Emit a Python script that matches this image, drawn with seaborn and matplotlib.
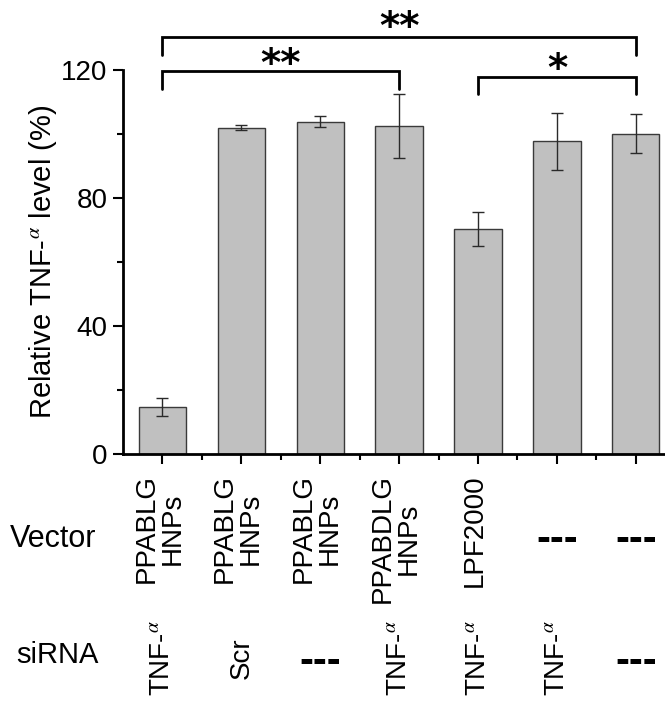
import numpy as np
import pandas as pd
import matplotlib
matplotlib.use('Agg')
import matplotlib.pyplot as plt
import matplotlib.transforms as mtransforms
from matplotlib.ticker import FixedLocator, MultipleLocator
import seaborn as sns

# ── data ──────────────────────────────────────────────────────────────────
groups = ['g1', 'g2', 'g3', 'g4', 'g5', 'g6', 'g7']
tnf_level = [14.8, 102.0, 103.9, 102.5, 70.4, 97.7, 100.1]
tnf_err = [2.8, 0.7, 1.7, 10.0, 5.3, 9.0, 6.0]
vector = ['PPABLG\nHNPs', 'PPABLG\nHNPs', 'PPABLG\nHNPs', 'PPABDLG\nHNPs', 'LPF2000', '---', '---']
sirna = ['TNF-${}^{\\alpha}$', 'Scr', '---', 'TNF-${}^{\\alpha}$', 'TNF-${}^{\\alpha}$', 'TNF-${}^{\\alpha}$', '---']
# significance brackets: (left bar, right bar, label)
brackets = [(0, 6, '**'), (0, 3, '**'), (4, 6, '*')]

sns.set_style('ticks')
plt.rcParams['font.family'] = ['Liberation Sans', 'DejaVu Sans']
plt.rcParams['mathtext.fontset'] = 'stix'
for k in ['text.color', 'axes.labelcolor', 'axes.edgecolor', 'xtick.color', 'ytick.color']:
    plt.rcParams[k] = 'black'

W, H = 665, 709
fig = plt.figure(figsize=(W / 100, H / 100), dpi=100)
ax = fig.add_axes([123 / W, 1 - 454 / H, (W - 123) / W, 384 / H])

df = pd.DataFrame({'group': groups, 'level': tnf_level})
sns.barplot(data=df, x='group', y='level', ax=ax, color='#c0c0c0',
            edgecolor='#3a3a3a', linewidth=1.0, width=0.6, saturation=1, errorbar=None)
ax.errorbar(np.arange(len(groups)), tnf_level, yerr=tnf_err, fmt='none',
            ecolor='#2a2a2a', elinewidth=1.0, capsize=4, capthick=1.0)

ax.set_xlim(-0.5, 6.37)
ax.set_ylim(0, 120)
ax.yaxis.set_major_locator(FixedLocator([0, 40, 80, 120]))
ax.yaxis.set_minor_locator(MultipleLocator(20))
ax.xaxis.set_minor_locator(FixedLocator(np.arange(0.5, 6, 1)))
ax.set_xticklabels([])
ax.set_xlabel('')
ax.set_ylabel('Relative TNF-${}^{\\alpha}$ level (%)', fontsize=21)
ax.yaxis.set_label_coords(-0.118, 0.5)
ax.tick_params(axis='both', which='major', length=7, width=1.5, labelsize=20, pad=4, direction='out')
ax.tick_params(axis='both', which='minor', length=4, width=1.5, direction='out')
for side in ['left', 'bottom']:
    ax.spines[side].set_linewidth(2)
sns.despine(ax=ax)

# significance brackets drawn above the axes
def y_of(px):
    return (454 - px) / 3.2

bracket_px = [(37, 55, 39), (71, 89, 76), (77, 94, 81)]
for (x0, x1, lab), (top, leg, base) in zip(brackets, bracket_px):
    yt, yl = y_of(top), y_of(leg)
    ax.plot([x0, x0, x1, x1], [yl, yt, yt, yl], color='black', lw=2, clip_on=False,
            solid_joinstyle='miter')
    ax.text((x0 + x1) / 2, y_of(base), lab, ha='center', va='baseline',
            fontsize=28, fontweight='bold', family='DejaVu Sans', clip_on=False)

# condition table below the axis
trans = mtransforms.blended_transform_factory(ax.transData, fig.transFigure)
for i, (v, s) in enumerate(zip(vector, sirna)):
    if v == '---':
        ax.text(i, 1 - 540 / H, v, transform=trans, ha='center', va='center',
                fontsize=30, fontweight='bold')
    else:
        ax.text(i - 0.04, 1 - 474 / H, v, transform=trans, ha='center', va='top',
                rotation=90, fontsize=20, linespacing=1.0, multialignment='center')
    if s == '---':
        ax.text(i, 1 - 662 / H, s, transform=trans, ha='center', va='center',
                fontsize=30, fontweight='bold')
    else:
        ax.text(i, 1 - 658 / H, s, transform=trans, ha='center', va='center',
                rotation=90, fontsize=20)

fig.text(10 / W, 1 - 539 / H, 'Vector', ha='left', va='center', fontsize=22)
fig.text(16 / W, 1 - 655 / H, 'siRNA', ha='left', va='center', fontsize=21)

fig.savefig('out.png', dpi=100)
